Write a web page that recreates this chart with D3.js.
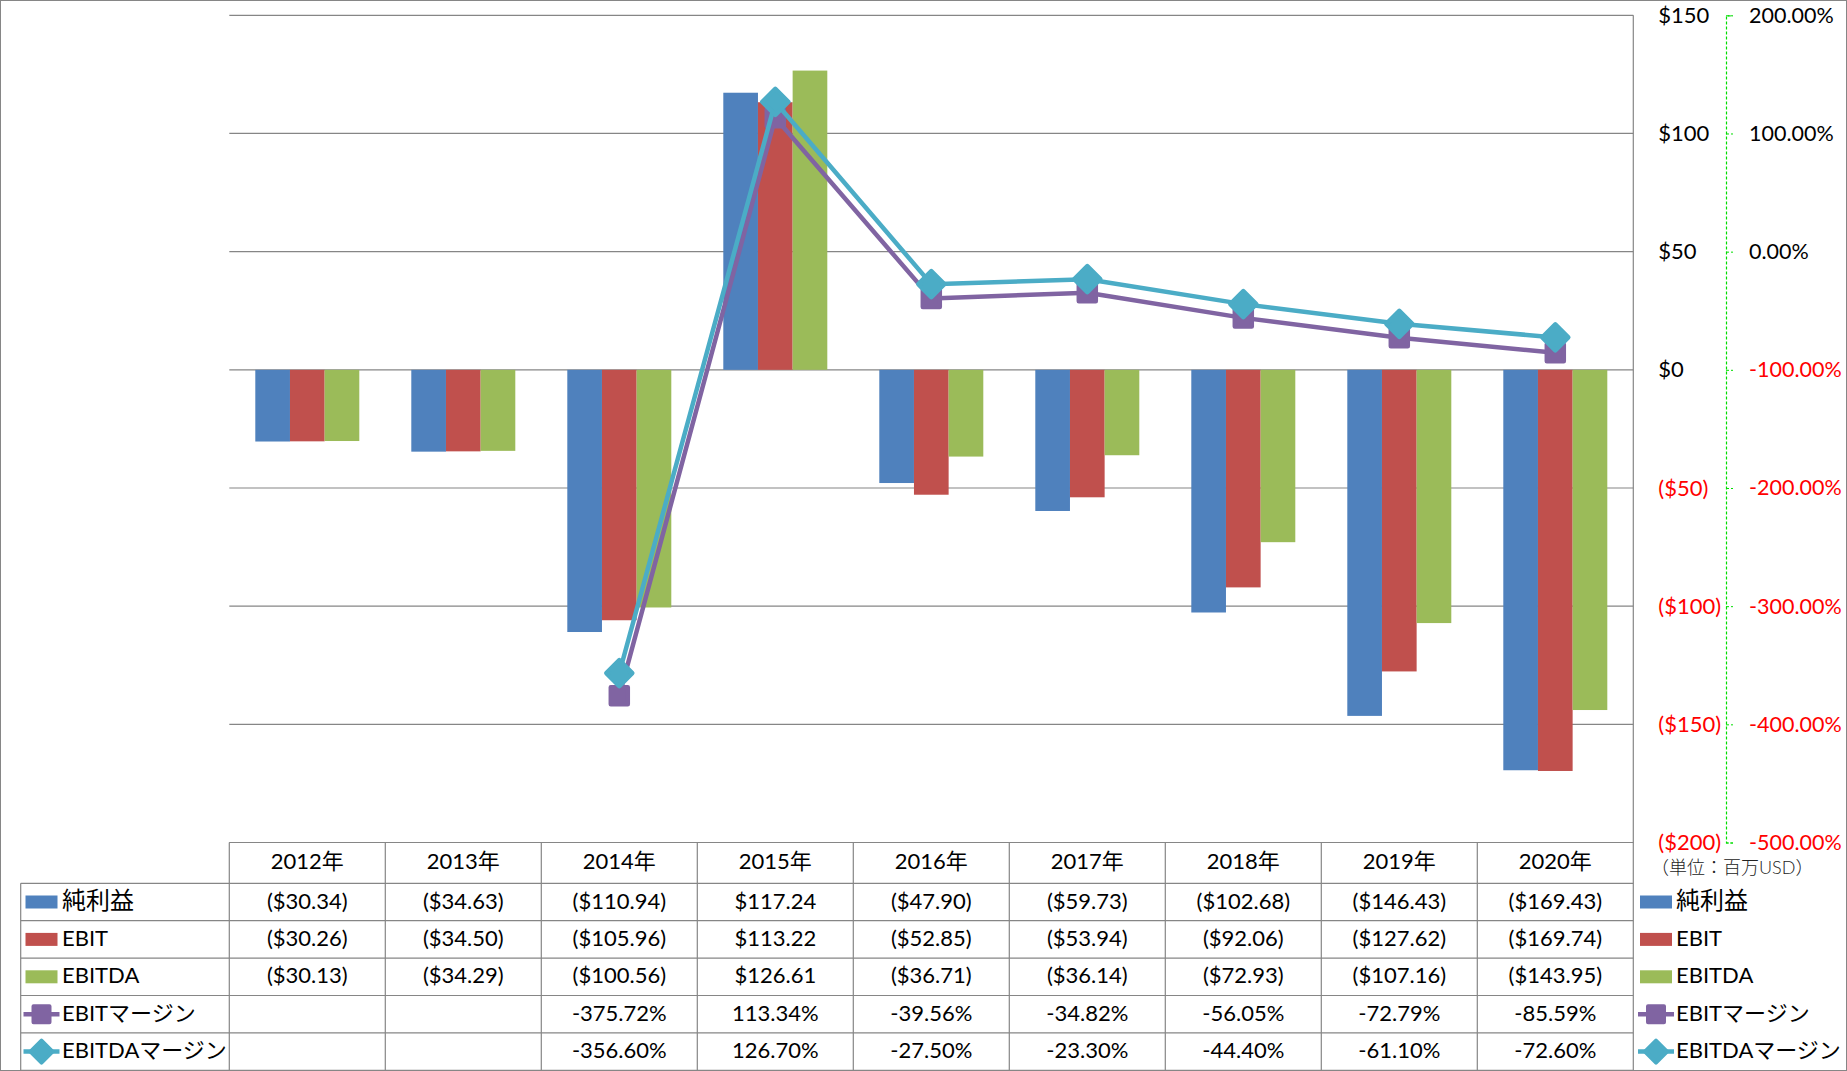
<!DOCTYPE html>
<html>
<head>
<meta charset="utf-8">
<script src="https://cdn.jsdelivr.net/npm/d3@7"></script>
<style>
  body { margin: 0; background: #fff; }
  text { font-family: Lato, "Noto Sans CJK JP", sans-serif; }
</style>
</head>
<body>
<div id="chart"></div>
<script>
// Data
const years = ["2012年", "2013年", "2014年", "2015年", "2016年", "2017年", "2018年", "2019年", "2020年"];
const netIncome = [-30.34, -34.63, -110.94, 117.24, -47.90, -59.73, -102.68, -146.43, -169.43];
const ebit = [-30.26, -34.50, -105.96, 113.22, -52.85, -53.94, -92.06, -127.62, -169.74];
const ebitda = [-30.13, -34.29, -100.56, 126.61, -36.71, -36.14, -72.93, -107.16, -143.95];
const ebitMargin = [null, null, -375.72, 113.34, -39.56, -34.82, -56.05, -72.79, -85.59];
const ebitdaMargin = [null, null, -356.60, 126.70, -27.50, -23.30, -44.40, -61.10, -72.60];
const leftTicks = [150, 100, 50, 0, -50, -100, -150, -200];
const rightTicks = [200, 100, 0, -100, -200, -300, -400, -500];

const barSeries = [
  { name: "純利益", values: netIncome, color: "#4F81BD" },
  { name: "EBIT", values: ebit, color: "#C0504D" },
  { name: "EBITDA", values: ebitda, color: "#9BBB59" }
];
const lineSeries = [
  { name: "EBITマージン", values: ebitMargin, color: "#8064A2", marker: "square" },
  { name: "EBITDAマージン", values: ebitdaMargin, color: "#4BACC6", marker: "diamond" }
];

// plain hyphen for negatives, like the original
const fmt2 = d3.formatLocale({ decimal: ".", thousands: ",", grouping: [3], currency: ["$", ""], minus: "-" }).format(".2f");
const fmtPct = v => fmt2(v) + "%";

// Layout
const W = 1847, H = 1071;
const plot = { left: 229.3, right: 1633.3, top: 15.3, bottom: 842.5 };
const tableLeft = 20.7;
const headerBottom = 883.3;
const rowH = 37.4;
const gridColor = "#868686";

const svg = d3.select("#chart").append("svg")
  .attr("width", W)
  .attr("height", H);

svg.append("rect")
  .attr("x", 0.5).attr("y", 0.5)
  .attr("width", W - 1).attr("height", H - 1)
  .attr("fill", "#fff")
  .attr("stroke", gridColor);

// Scales
const x = d3.scaleBand().domain(years).range([plot.left, plot.right]);
const xs = d3.scaleBand().domain(barSeries.map(d => d.name))
  .range([0, x.bandwidth()]).paddingInner(0).paddingOuter(0.75);
const yL = d3.scaleLinear().domain([-200, 150]).range([plot.bottom, plot.top]);
const yR = d3.scaleLinear().domain([-500, 200]).range([plot.bottom, plot.top]);

// Gridlines
svg.append("g").selectAll("line")
  .data(leftTicks)
  .join("line")
  .attr("x1", plot.left).attr("x2", plot.right)
  .attr("y1", d => yL(d)).attr("y2", d => yL(d))
  .attr("stroke", gridColor).attr("stroke-width", 1.2);

// Bars
barSeries.forEach(s => {
  svg.append("g").selectAll("rect")
    .data(s.values)
    .join("rect")
    .attr("x", (d, i) => x(years[i]) + xs(s.name))
    .attr("width", xs.bandwidth())
    .attr("y", d => yL(Math.max(0, d)))
    .attr("height", d => Math.abs(yL(d) - yL(0)))
    .attr("fill", s.color);
});

// Markers
function drawMarker(sel, type, color) {
  if (type === "square") {
    sel.append("rect")
      .attr("x", -8.5).attr("y", -8.5).attr("width", 17).attr("height", 17)
      .attr("fill", color).attr("stroke", color)
      .attr("stroke-width", 4.5).attr("stroke-linejoin", "round");
  } else {
    sel.append("path")
      .attr("d", "M0,-13L13,0L0,13L-13,0Z")
      .attr("fill", color).attr("stroke", color)
      .attr("stroke-width", 4.5).attr("stroke-linejoin", "round");
  }
}

// Margin lines
const line = d3.line()
  .defined(d => d != null)
  .x((d, i) => x(years[i]) + x.bandwidth() / 2)
  .y(d => yR(d));

lineSeries.forEach(s => {
  svg.append("path")
    .datum(s.values)
    .attr("d", line)
    .attr("fill", "none")
    .attr("stroke", s.color)
    .attr("stroke-width", 4.5)
    .attr("stroke-linejoin", "round");
  svg.append("g").selectAll("g")
    .data(s.values.map((v, i) => ({ v, i })).filter(d => d.v != null))
    .join("g")
    .attr("transform", d => `translate(${x(years[d.i]) + x.bandwidth() / 2},${yR(d.v)})`)
    .each(function () { drawMarker(d3.select(this), s.marker, s.color); });
});

// Left ($) axis, labels placed right of plot
const fmtDollar = v => v < 0 ? `($${Math.abs(v)})` : `$${v}`;
const axL = svg.append("g")
  .attr("transform", `translate(${plot.right},0)`)
  .call(d3.axisRight(yL).tickValues(leftTicks).tickSize(0).tickPadding(25).tickFormat(fmtDollar));
axL.select(".domain").remove();
axL.selectAll("text")
  .attr("font-size", 22)
  .attr("font-family", "Lato, sans-serif")
  .attr("fill", d => d < 0 ? "#FF0000" : "#000");

// Right (%) axis
const axR = svg.append("g")
  .attr("transform", "translate(1726,0)")
  .call(d3.axisRight(yR).tickValues(rightTicks).tickSize(7).tickSizeOuter(7).tickPadding(16)
    .tickFormat(fmtPct));
axR.select(".domain").attr("stroke", "#00DD00").attr("stroke-dasharray", "3,2").attr("stroke-width", 1.2);
axR.selectAll(".tick line").attr("stroke", "#00DD00").attr("stroke-dasharray", "3,2");
axR.selectAll("text")
  .attr("font-size", 21.5)
  .attr("font-family", "Lato, sans-serif")
  .attr("fill", d => d < 0 ? "#FF0000" : "#000");

// Unit label
svg.append("text")
  .attr("x", 1651).attr("y", 870)
  .attr("dominant-baseline", "middle")
  .attr("font-size", 18)
  .attr("font-family", "'Noto Sans CJK JP', sans-serif")
  .attr("font-weight", 300)
  .attr("fill", "#222")
  .text("（単位：百万USD）");

// Data table
function fmtMoney(v) {
  const s = "$" + fmt2(Math.abs(v));
  return v < 0 ? `(${s})` : s;
}
const tableRows = [
  { s: barSeries[0], cells: netIncome.map(fmtMoney) },
  { s: barSeries[1], cells: ebit.map(fmtMoney) },
  { s: barSeries[2], cells: ebitda.map(fmtMoney) },
  { s: lineSeries[0], cells: ebitMargin.map(v => v == null ? "" : fmtPct(v)) },
  { s: lineSeries[1], cells: ebitdaMargin.map(v => v == null ? "" : fmtPct(v)) }
];

const tg = svg.append("g");
const tableBottom = headerBottom + rowH * tableRows.length;

// horizontal table lines
tg.append("line")
  .attr("x1", plot.left).attr("x2", plot.right)
  .attr("y1", plot.bottom).attr("y2", plot.bottom)
  .attr("stroke", gridColor).attr("stroke-width", 1.2);
d3.range(tableRows.length + 1).forEach(i => {
  const yy = headerBottom + i * rowH;
  tg.append("line")
    .attr("x1", tableLeft).attr("x2", plot.right)
    .attr("y1", yy).attr("y2", yy)
    .attr("stroke", gridColor).attr("stroke-width", 1.2);
});
// vertical table lines
tg.append("line")
  .attr("x1", tableLeft).attr("x2", tableLeft)
  .attr("y1", headerBottom).attr("y2", tableBottom)
  .attr("stroke", gridColor).attr("stroke-width", 1.2);
years.forEach(yr => {
  tg.append("line")
    .attr("x1", x(yr)).attr("x2", x(yr))
    .attr("y1", plot.bottom).attr("y2", tableBottom)
    .attr("stroke", gridColor).attr("stroke-width", 1.2);
});
tg.append("line")
  .attr("x1", plot.right).attr("x2", plot.right)
  .attr("y1", plot.top).attr("y2", tableBottom)
  .attr("stroke", gridColor).attr("stroke-width", 1.2);

// header
tg.selectAll("text.year")
  .data(years)
  .join("text")
  .attr("class", "year")
  .attr("x", d => x(d) + x.bandwidth() / 2)
  .attr("y", (plot.bottom + headerBottom) / 2 + 1)
  .attr("text-anchor", "middle")
  .attr("dominant-baseline", "middle")
  .attr("font-size", 22)
  .attr("fill", "#000")
  .text(d => d);

// legend key drawing
function drawKey(g, s, cx) {
  if (s.marker) {
    g.append("line")
      .attr("x1", cx - 18).attr("x2", cx + 18)
      .attr("stroke", s.color).attr("stroke-width", 4.5);
    const m = g.append("g").attr("transform", `translate(${cx},0)`);
    if (s.marker === "square") {
      m.append("rect").attr("x", -8).attr("y", -8).attr("width", 16).attr("height", 16)
        .attr("fill", s.color).attr("stroke", s.color).attr("stroke-width", 4).attr("stroke-linejoin", "round");
    } else {
      m.append("path").attr("d", "M0,-11L11,0L0,11L-11,0Z")
        .attr("fill", s.color).attr("stroke", s.color).attr("stroke-width", 4).attr("stroke-linejoin", "round");
    }
  } else {
    g.append("rect")
      .attr("x", cx - 16).attr("y", -6.5).attr("width", 32).attr("height", 13)
      .attr("fill", s.color);
  }
}

tableRows.forEach((r, ri) => {
  const cy = headerBottom + ri * rowH + rowH / 2;
  // left legend cell
  const lg = tg.append("g").attr("transform", `translate(0,${cy})`);
  drawKey(lg, r.s, 41.5);
  lg.append("text")
    .attr("x", 62).attr("y", 1)
    .attr("dominant-baseline", "middle")
    .attr("font-size", r.s.name === "純利益" ? 24 : 22)
    .attr("fill", "#000")
    .text(r.s.name);
  // right legend
  const rg = tg.append("g").attr("transform", `translate(0,${cy})`);
  drawKey(rg, r.s, 1656);
  rg.append("text")
    .attr("x", 1676).attr("y", 1)
    .attr("dominant-baseline", "middle")
    .attr("font-size", r.s.name === "純利益" ? 24 : 22)
    .attr("fill", "#000")
    .text(r.s.name);
  // values
  tg.append("g").selectAll("text")
    .data(r.cells)
    .join("text")
    .attr("x", (d, i) => x(years[i]) + x.bandwidth() / 2)
    .attr("y", cy + 1)
    .attr("text-anchor", "middle")
    .attr("dominant-baseline", "middle")
    .attr("font-size", 22)
    .attr("fill", "#000")
    .text(d => d);
});
</script>
</body>
</html>
